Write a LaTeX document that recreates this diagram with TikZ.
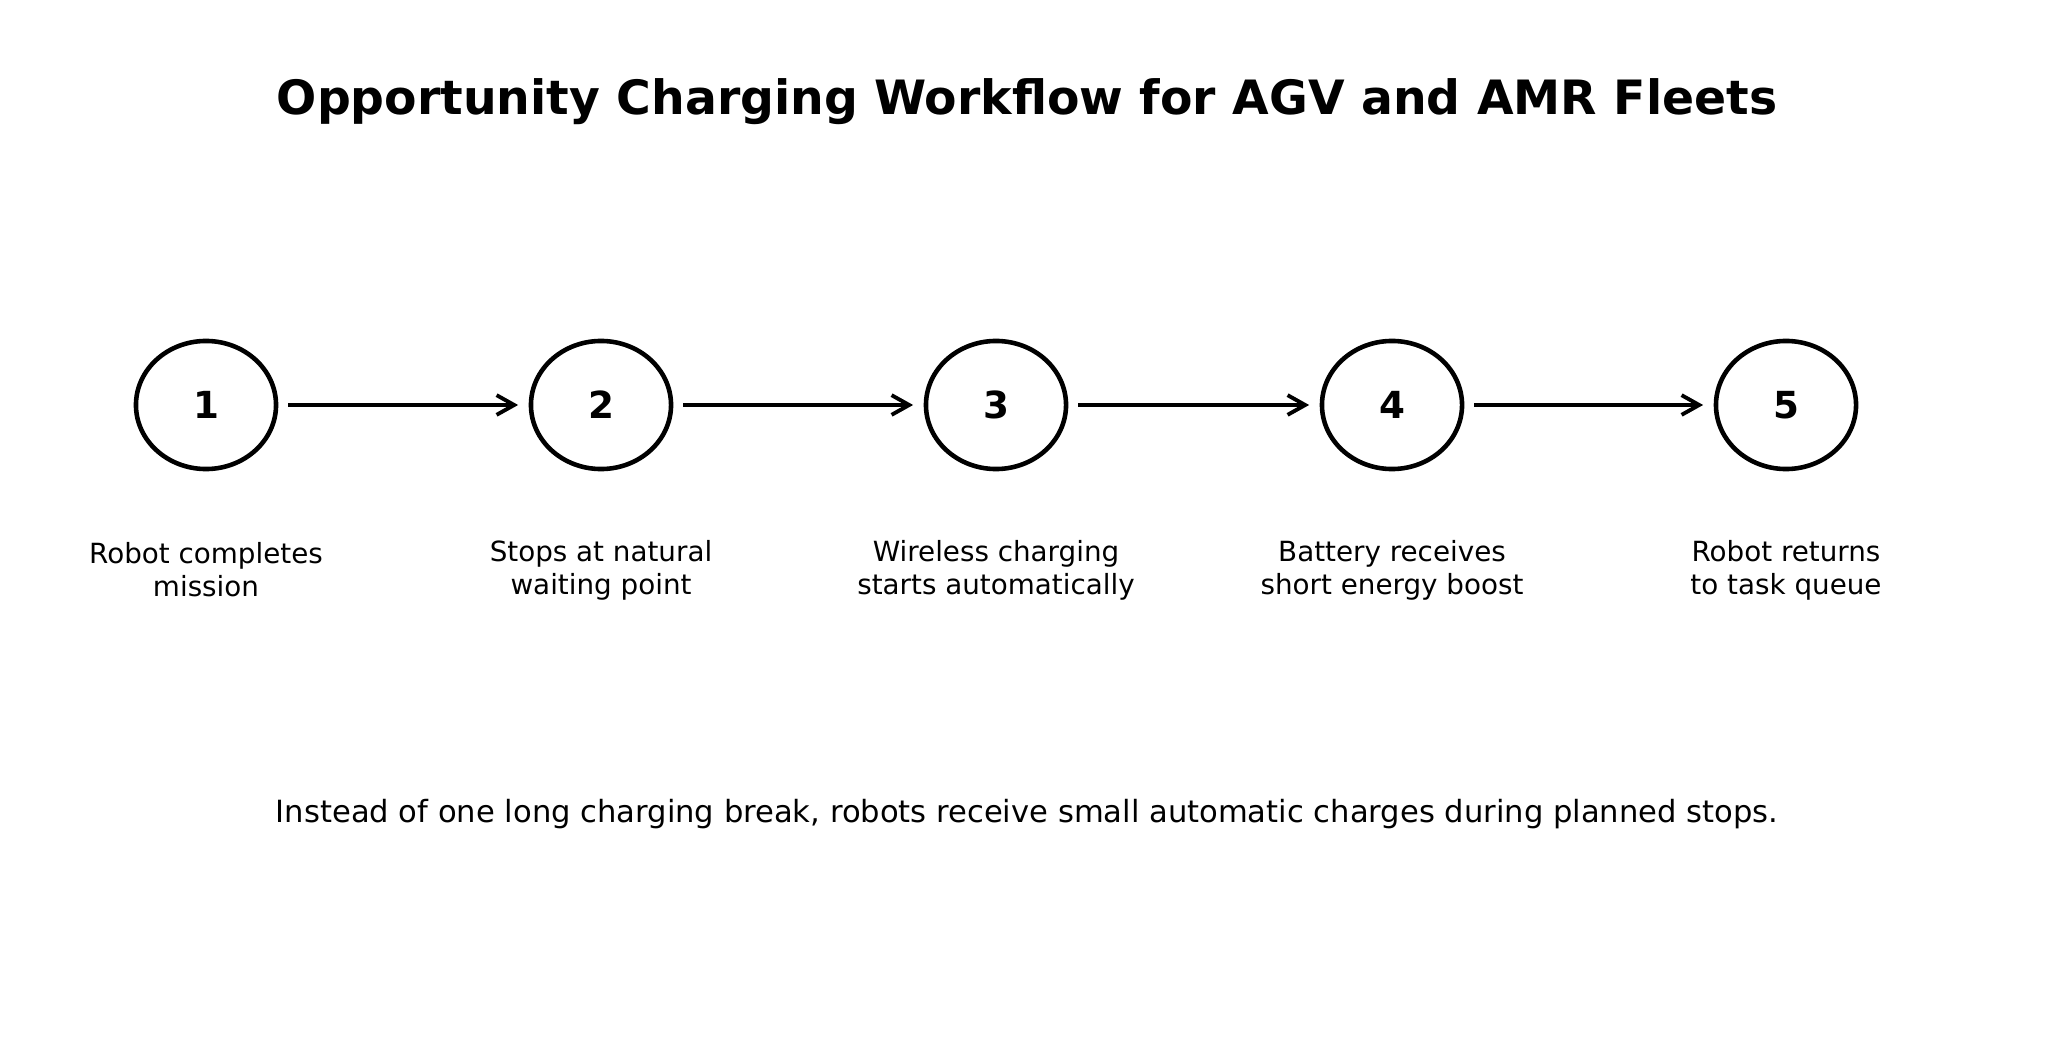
\documentclass[tikz,border=0pt]{standalone}
\usepackage{fontspec}
\setmainfont{DejaVu Sans}
\usetikzlibrary{shapes.geometric, arrows.meta}

\begin{document}
\begin{tikzpicture}[
    x=0.01cm, y=-0.01cm,
    stepcircle/.style={ellipse, draw, line width=1.3pt, minimum width=1.40cm, minimum height=1.28cm, inner sep=0pt, font=\fontsize{10.6}{12}\selectfont\bfseries},
    steplabel/.style={align=center, font=\fontsize{7.9}{9.4}\selectfont},
    flow/.style={-{Straight Barb[length=5pt, width=5.6pt]}, line width=1.1pt, shorten <=2.8pt, shorten >=3pt}
]
\useasboundingbox (0,0) rectangle (2055,1040);

\node[font=\fontsize{13.45}{16}\selectfont\bfseries] (title) at (1027,102) {Opportunity Charging Workflow for AGV and AMR Fleets};

\node[stepcircle] (s1) at (206,405) {1};
\node[stepcircle] (s2) at (601,405) {2};
\node[stepcircle] (s3) at (996,405) {3};
\node[stepcircle] (s4) at (1392,405) {4};
\node[stepcircle] (s5) at (1786,405) {5};

\draw[flow] (s1) -- (s2);
\draw[flow] (s2) -- (s3);
\draw[flow] (s3) -- (s4);
\draw[flow] (s4) -- (s5);

\node[steplabel] (l1) at (206,570) {Robot completes\\mission};
\node[steplabel] (l2) at (601,570) {Stops at natural\\waiting point};
\node[steplabel] (l3) at (996,570) {Wireless charging\\starts automatically};
\node[steplabel] (l4) at (1392,570) {Battery receives\\short energy boost};
\node[steplabel] (l5) at (1786,570) {Robot returns\\to task queue};

\node[font=\fontsize{8.7}{10.5}\selectfont] (note) at (1027,814) {Instead of one long charging break, robots receive small automatic charges during planned stops.};
\end{tikzpicture}
\end{document}
